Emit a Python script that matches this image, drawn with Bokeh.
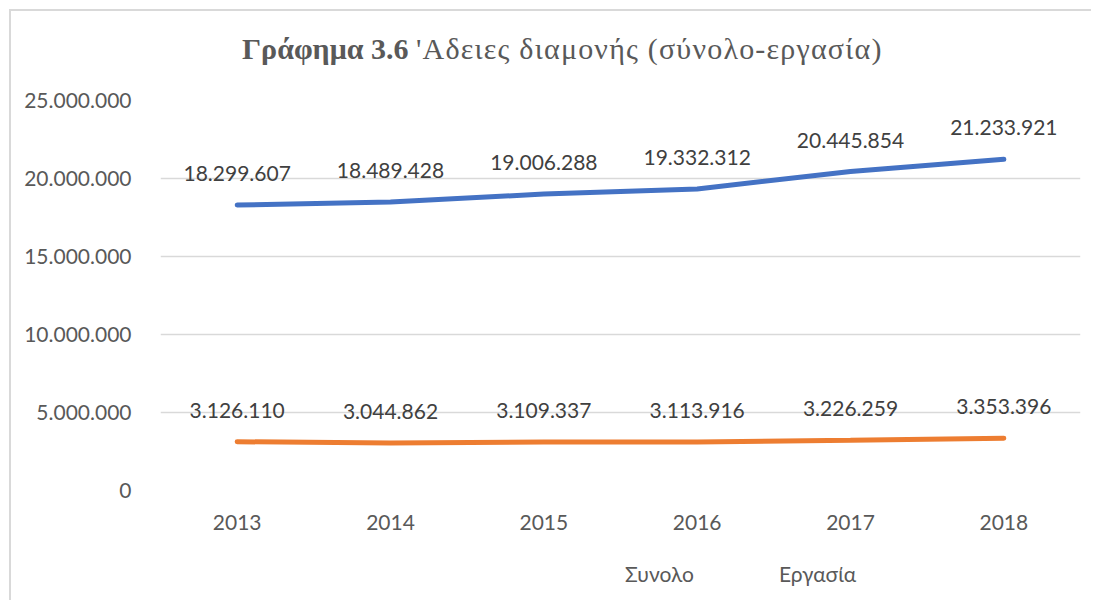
from bokeh.plotting import figure
from bokeh.models import (ColumnDataSource, FixedTicker, CustomJSTickFormatter,
                          LabelSet, Legend, LegendItem, Div, Range1d)
from bokeh.layouts import column
from bokeh.core.properties import value
from bokeh.embed import file_html
from bokeh.resources import INLINE

# ---- data ----
years = ["2013", "2014", "2015", "2016", "2017", "2018"]
synolo = [18299607, 18489428, 19006288, 19332312, 20445854, 21233921]
ergasia = [3126110, 3044862, 3109337, 3113916, 3226259, 3353396]
y_ticks = [0, 5000000, 10000000, 15000000, 20000000, 25000000]
series_names = ["Συνολο", "Εργασία"]
series_colors = ["#4472C4", "#ED7D31"]
title_bold = "Γράφημα 3.6"
title_rest = "'Αδειες διαμονής (σύνολο-εργασία)"


def fmt(v):
    return f"{v:,}".replace(",", ".")


src = ColumnDataSource(dict(
    x=years,
    s=synolo, e=ergasia,
    s_lab=[fmt(v) for v in synolo],
    e_lab=[fmt(v) for v in ergasia],
))

FONT = "Lato"
GRAY = "#595959"

title = Div(
    text=(f'<div style="padding-left:231px;padding-top:20px;line-height:36px;'
          f'white-space:nowrap;font-family:\'Liberation Serif\';font-size:30px;'
          f'color:{GRAY}"><b>{title_bold}</b> '
          f'<span style="letter-spacing:1.2px">{title_rest}</span></div>'),
    width=1080, height=60, margin=0)

p = figure(x_range=years, y_range=(0, 25000000),
           frame_width=920, frame_height=390,
           min_border_left=149, min_border_right=11,
           min_border_top=29, min_border_bottom=60,
           output_backend="svg", toolbar_location=None, margin=0)

p.outline_line_color = None
p.background_fill_color = "white"
p.border_fill_color = "white"

p.xgrid.grid_line_color = None
p.ygrid.grid_line_color = "#d9d9d9"
p.ygrid.grid_line_width = 1.5

p.yaxis.ticker = FixedTicker(ticks=y_ticks)
p.yaxis.formatter = CustomJSTickFormatter(
    code="return Math.round(tick).toString().replace(/\\B(?=(\\d{3})+(?!\\d))/g, '.');")
for ax in (p.xaxis[0], p.yaxis[0]):
    ax.axis_line_color = None
    ax.major_tick_line_color = None
    ax.minor_tick_line_color = None
    ax.major_label_text_font = FONT
    ax.major_label_text_font_size = "21px"
    ax.major_label_text_color = GRAY
p.yaxis.major_label_standoff = 23
p.xaxis.major_label_standoff = 18

p.line("x", "s", source=src, line_width=5, line_color=series_colors[0], line_cap="round")
p.line("x", "e", source=src, line_width=5, line_color=series_colors[1], line_cap="round")

for col, ycol in (("s_lab", "s"), ("e_lab", "e")):
    p.add_layout(LabelSet(x="x", y=ycol, text=col, source=src,
                          y_offset=24, text_align="center",
                          text_baseline="alphabetic",
                          text_font=value(FONT), text_font_size=value("21px"),
                          text_color="#404040"))

# ---- legend strip (separate small figure, legend placed inside its frame) ----
lg = figure(width=1080, height=50, x_range=Range1d(0, 1), y_range=Range1d(0, 1),
            x_axis_location=None, y_axis_location=None, min_border=0,
            output_backend="svg", toolbar_location=None, margin=0)
lg.outline_line_color = None
lg.grid.grid_line_color = None
lg.background_fill_color = "white"
lg.border_fill_color = "white"
keys = [lg.line(x=[], y=[], line_width=5, line_color=c, line_cap="round")
        for c in series_colors]

legend = Legend(items=[LegendItem(label=n, renderers=[r])
                       for n, r in zip(series_names, keys)],
                orientation="horizontal", location=(406, 14),
                glyph_width=55, glyph_height=20, label_height=20,
                label_standoff=4, spacing=26, padding=0, margin=0,
                border_line_color=None, background_fill_alpha=0,
                label_text_font=FONT, label_text_font_size="21px",
                label_text_color=GRAY)
lg.add_layout(legend, "center")

layout = column(title, p, lg, spacing=0, margin=(9, 0, 0, 9),
                styles={"border-top": "2px solid #d9d9d9",
                        "border-left": "2px solid #d9d9d9"})

open("out.html", "w").write(file_html(layout, INLINE))
